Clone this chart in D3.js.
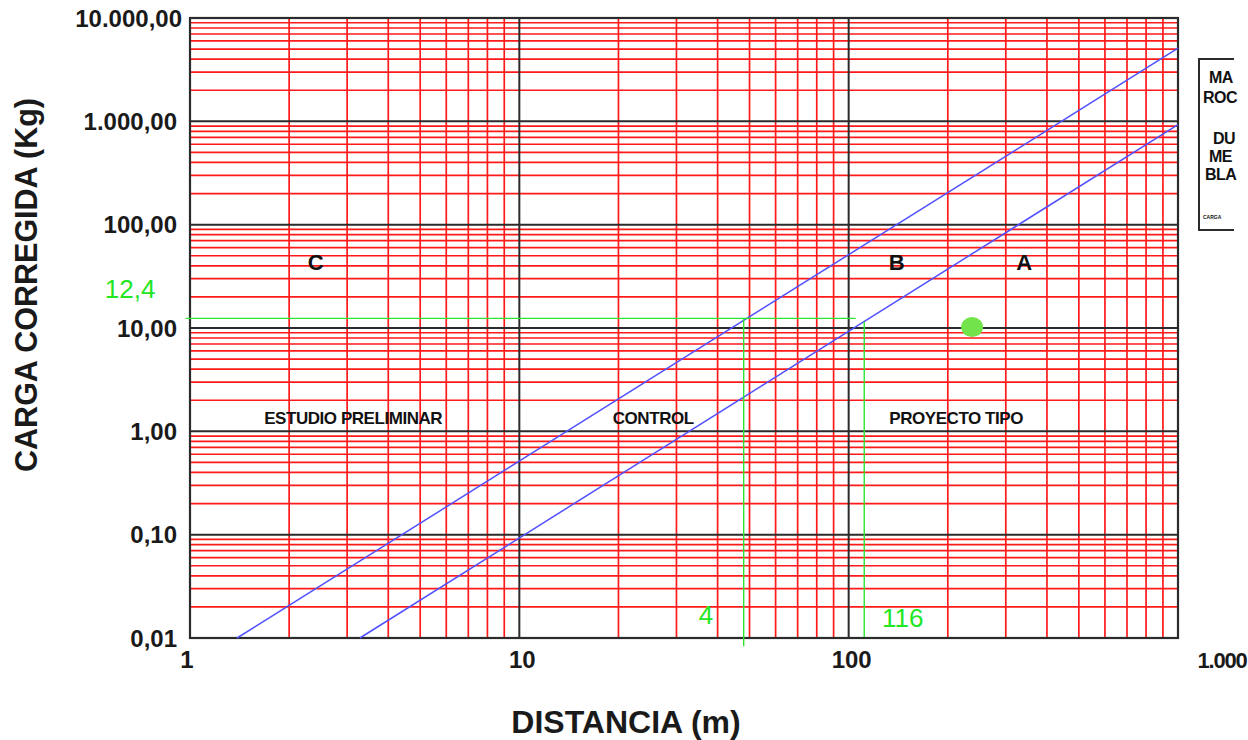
<!DOCTYPE html>
<html>
<head>
<meta charset="utf-8">
<script src="https://cdn.jsdelivr.net/npm/d3@7"></script>
<style>
  html, body { margin: 0; padding: 0; background: #fff; overflow: hidden; }
  svg { display: block; font-family: "Liberation Sans", Arial, sans-serif; }
</style>
</head>
<body>
<svg id="chart" width="1248" height="740"></svg>
<script>
// ---------- data ----------
const xDomain = [1, 1000];
const yDomain = [0.01, 10000];
const xTicks = [1, 10, 100, 1000];
const xTickLabels = ["1", "10", "100", "1.000"];
const yTicks = [10000, 1000, 100, 10, 1, 0.1, 0.01];
const yTickLabels = ["10.000,00", "1.000,00", "100,00", "10,00", "1,00", "0,10", "0,01"];

// boundary lines (distance m, charge kg) endpoints
const lineB = [{d: 1.39, q: 0.01}, {d: 1000, q: 5100}];
const lineA = [{d: 3.28, q: 0.01}, {d: 1000, q: 930}];

// zone labels
const zoneLetters = [{t: "C", d: 2.41, q: 43.5}, {t: "B", d: 140, q: 43.5}, {t: "A", d: 341, q: 43.5}];
const zoneNames = [
  {t: "ESTUDIO PRELIMINAR", d: 3.13, q: 1.35},
  {t: "CONTROL", d: 25.5, q: 1.35},
  {t: "PROYECTO TIPO", d: 212, q: 1.35}
];

// green reading guides
const guideQ = 12.4;
const guideHoriz = [{d: 0.97, q: 12.4}, {d: 105, q: 12.4}];
const guideVert1 = [{d: 48, q: 12.4}, {d: 48, q: 0.0083}];
const guideVert2 = [{d: 111.5, q: 11.5}, {d: 111.5, q: 0.0102}];
const guideLabels = [
  {t: "12,4", d: 0.785, q: 23.8, anchor: "end"},
  {t: "4", d: 36.9, q: 0.0167, anchor: "middle"},
  {t: "116", d: 146, q: 0.0156, anchor: "middle"}
];
const point = {d: 237, q: 10.2};

// legend box text (the reference is cut at its right edge)
const legendLines = ["MA", "ROC", "", "DU", "ME", "BLA"];

// ---------- drawing ----------
const svg = d3.select("#chart");
const pL = 190, pR = 1178, pT = 18, pB = 638;
const x = d3.scaleLog().domain(xDomain).range([pL, pR]);
const y = d3.scaleLog().domain(yDomain).range([pB, pT]);

const RED = "#ff1a1a", DARK = "#2b2b2b", BLUE = "#5050ff", GREEN = "#2ee52e";

// minor grid (2..9 of each decade)
const minorX = [], minorY = [];
for (let e = 0; e < 3; e++) for (let k = 2; k <= 9; k++) minorX.push(k * Math.pow(10, e));
for (let e = -2; e < 4; e++) for (let k = 2; k <= 9; k++) minorY.push(k * Math.pow(10, e));

const g = svg.append("g");
g.selectAll("line.mx").data(minorX).enter().append("line")
  .attr("x1", d => x(d)).attr("x2", d => x(d)).attr("y1", pT).attr("y2", pB)
  .attr("stroke", RED).attr("stroke-width", 1.7);
g.selectAll("line.my").data(minorY).enter().append("line")
  .attr("y1", d => y(d)).attr("y2", d => y(d)).attr("x1", pL).attr("x2", pR)
  .attr("stroke", RED).attr("stroke-width", 1.7);
// decade lines
g.selectAll("line.dx").data(xTicks).enter().append("line")
  .attr("x1", d => x(d)).attr("x2", d => x(d)).attr("y1", pT).attr("y2", pB)
  .attr("stroke", DARK).attr("stroke-width", 2);
g.selectAll("line.dy").data(yTicks).enter().append("line")
  .attr("y1", d => y(d)).attr("y2", d => y(d)).attr("x1", pL).attr("x2", pR)
  .attr("stroke", DARK).attr("stroke-width", 2);
g.append("rect").attr("x", pL).attr("y", pT).attr("width", pR - pL).attr("height", pB - pT)
  .attr("fill", "none").attr("stroke", DARK).attr("stroke-width", 2.2);

// boundary lines
const ln = d3.line().x(p => x(p.d)).y(p => y(p.q));
[lineB, lineA].forEach(L => {
  svg.append("path").attr("d", ln(L)).attr("fill", "none").attr("stroke", BLUE).attr("stroke-width", 1.5);
});

// green guides
[guideHoriz, guideVert1, guideVert2].forEach(L => {
  svg.append("path").attr("d", ln(L)).attr("fill", "none").attr("stroke", GREEN).attr("stroke-width", 1.4);
});
svg.selectAll("text.gl").data(guideLabels).enter().append("text")
  .attr("x", d => x(d.d)).attr("y", d => y(d.q))
  .attr("text-anchor", d => d.anchor).attr("dy", "0.35em")
  .attr("font-size", 26).attr("fill", "#22e622").text(d => d.t);
svg.append("ellipse").attr("cx", x(point.d)).attr("cy", y(point.q)).attr("rx", 11).attr("ry", 10)
  .attr("fill", "#72e34a");

// zone texts
svg.selectAll("text.zl").data(zoneLetters).enter().append("text")
  .attr("x", d => x(d.d)).attr("y", d => y(d.q)).attr("dy", "0.35em")
  .attr("text-anchor", "middle").attr("font-weight", "bold").attr("font-size", 22)
  .attr("fill", "#111").text(d => d.t);
svg.selectAll("text.zn").data(zoneNames).enter().append("text")
  .attr("x", d => x(d.d)).attr("y", d => y(d.q)).attr("dy", "0.35em")
  .attr("text-anchor", "middle").attr("font-weight", "bold").attr("font-size", 17)
  .attr("letter-spacing", -0.45).attr("fill", "#111").text(d => d.t);

// tick labels
svg.selectAll("text.yt").data(yTicks).enter().append("text")
  .attr("x", (d, i) => pL - 13 + (i === 0 ? 5 : 0)).attr("y", d => y(d)).attr("dy", "0.36em")
  .attr("text-anchor", "end").attr("font-weight", "bold").attr("font-size", 24)
  .attr("fill", "#1a1a1a").text((d, i) => yTickLabels[i]);
svg.selectAll("text.xt").data(xTicks).enter().append("text")
  .attr("x", (d, i) => x(d) + (i === 3 ? 44 : (i === 0 ? -3 : 3))).attr("y", pB + 30)
  .attr("text-anchor", "middle").attr("font-weight", "bold")
  .attr("font-size", (d, i) => i === 3 ? 22 : 24)
  .attr("letter-spacing", (d, i) => i === 3 ? -1.2 : 0)
  .attr("fill", "#1a1a1a").text((d, i) => xTickLabels[i]);

// axis titles
svg.append("text").attr("transform", "translate(37,285) rotate(-90)")
  .attr("text-anchor", "middle").attr("font-weight", "bold").attr("font-size", 30.5)
  .attr("fill", "#1a1a1a").text("CARGA CORREGIDA (Kg)");
svg.append("text").attr("x", 626).attr("y", 733)
  .attr("text-anchor", "middle").attr("font-weight", "bold").attr("font-size", 32)
  .attr("fill", "#1a1a1a").text("DISTANCIA (m)");

// legend box (three visible sides, cut at the right like the reference)
svg.append("path").attr("d", "M1234,59 H1199 V230 H1234")
  .attr("fill", "none").attr("stroke", DARK).attr("stroke-width", 2);
const lx = [1209, 1203, 0, 1213, 1209, 1205];
const ly = [83, 103, 0, 144, 162, 180];
legendLines.forEach((t, i) => {
  if (!t) return;
  svg.append("text").attr("x", lx[i]).attr("y", ly[i]).attr("font-weight", "bold")
    .attr("font-size", 16).attr("letter-spacing", -0.5).attr("fill", "#111").text(t);
});
svg.append("text").attr("x", 1203).attr("y", 219).attr("font-weight", "bold")
  .attr("font-size", 5).attr("fill", "#111").text("CARGA");
</script>
</body>
</html>
